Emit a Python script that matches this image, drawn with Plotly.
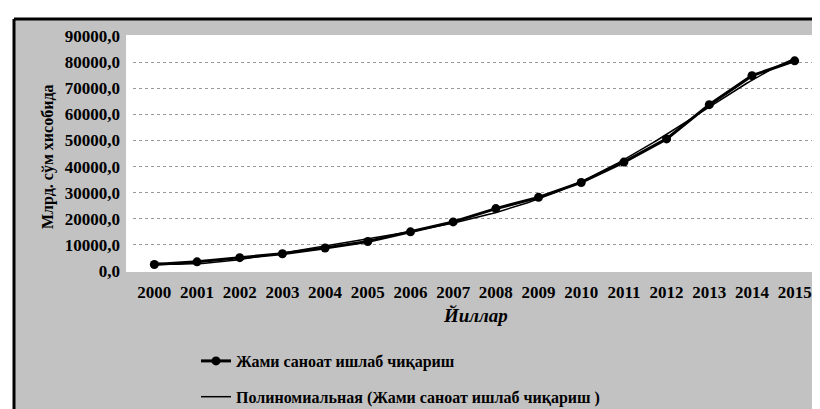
import numpy as np
import plotly.graph_objects as go

years = [2000, 2001, 2002, 2003, 2004, 2005, 2006, 2007,
         2008, 2009, 2010, 2011, 2012, 2013, 2014, 2015]
output_values = [2500, 3500, 5100, 6600, 8800, 11300, 15000, 18800,
                 23900, 28200, 33900, 41700, 50600, 63700, 74800, 80500]
y_tick_values = [0, 10000, 20000, 30000, 40000, 50000, 60000, 70000, 80000, 90000]
y_tick_labels = ["0,0", "10000,0", "20000,0", "30000,0", "40000,0",
                 "50000,0", "60000,0", "70000,0", "80000,0", "90000,0"]
x_tick_labels = [str(y) for y in years]
series_name = "Жами саноат ишлаб чиқариш"
trend_name = "Полиномиальная (Жами саноат ишлаб чиқариш )"
y_title = "Млрд. сўм хисобида"
x_title = "Йиллар"

# polynomial trendline (as Excel would compute it from the series)
xi = np.arange(1, len(years) + 1)
coef = np.polyfit(xi, output_values, 5)
xs = np.linspace(1, len(years), 200)
trend_x = xs + years[0] - 1
trend_y = np.polyval(coef, xs)

W, H = 820, 409
L, R, T, B = 125, 12, 28, 146
pw, ph = W - L - R, H - T - B

def px(x):
    return (x - L) / pw

def py(y):
    return (H - B - y) / ph

FONT = "Liberation Serif"

fig = go.Figure()
fig.add_trace(go.Scatter(
    x=years, y=output_values, mode="lines+markers", name=series_name,
    line=dict(color="black", width=3),
    marker=dict(color="black", size=9, symbol="circle"),
    legendgroup="a",
))
fig.add_trace(go.Scatter(
    x=trend_x, y=trend_y, mode="lines", name=trend_name,
    line=dict(color="black", width=1.5),
    legendgroup="b",
))

shapes = [
    dict(type="rect", xref="paper", yref="paper", x0=px(0), x1=px(W), y0=py(11), y1=py(0),
         fillcolor="white", line_width=0, layer="below"),
    dict(type="rect", xref="paper", yref="paper", x0=px(0), x1=px(6), y0=py(H), y1=py(11),
         fillcolor="white", line_width=0, layer="below"),
    dict(type="rect", xref="paper", yref="paper", x0=px(810), x1=px(W), y0=py(H), y1=py(27),
         fillcolor="#e4e4e4", line_width=0, layer="below"),
    dict(type="rect", xref="paper", yref="paper", x0=px(118), x1=px(810), y0=py(264), y1=py(27),
         fillcolor="white", line_width=0, layer="below"),
    dict(type="line", xref="paper", yref="paper", x0=px(6), x1=px(W), y0=py(11), y1=py(11),
         line=dict(color="black", width=3)),
    dict(type="line", xref="paper", yref="paper", x0=px(6), x1=px(6), y0=py(11), y1=py(H),
         line=dict(color="black", width=3)),
]

fig.update_layout(
    width=W, height=H,
    margin=dict(l=L, r=R, t=T, b=B, autoexpand=False),
    paper_bgcolor="#c2c2c2",
    plot_bgcolor="white",
    font=dict(family=FONT, color="black", size=16, weight="bold"),
    shapes=shapes,
    xaxis=dict(
        range=[1999.5, 2015.5], tickvals=years, ticktext=x_tick_labels,
        showgrid=False, zeroline=False, showline=False, ticks="",
        ticklabelstandoff=9, tickangle=0, automargin=False,
        tickfont=dict(family=FONT, size=17, color="black", weight="bold"),
    ),
    yaxis=dict(
        range=[0, 90000], tickvals=y_tick_values, ticktext=y_tick_labels,
        showgrid=True, gridcolor="#9a9a9a", griddash="dot", gridwidth=1,
        zeroline=False, showline=False, ticks="", automargin=False,
        ticklabelstandoff=12,
        tickfont=dict(family=FONT, size=17, color="black", weight="bold"),
    ),
    showlegend=True,
    legend=dict(
        xref="container", yref="container", x=188 / W, y=1 - 371 / H,
        xanchor="left", yanchor="middle", bgcolor="rgba(0,0,0,0)",
        tracegroupgap=12, orientation="v",
        font=dict(family=FONT, size=16, color="black", weight="bold"),
    ),
    annotations=[
        dict(text=y_title, xref="paper", yref="paper", x=px(40), y=py(149),
             showarrow=False, textangle=-90, xanchor="center", yanchor="middle",
             font=dict(family=FONT, size=16, color="black", weight="bold")),
        dict(text="<i>" + x_title + "</i>", xref="paper", yref="paper", x=px(467), y=py(307),
             showarrow=False, xanchor="center", yanchor="middle",
             font=dict(family=FONT, size=19, color="black", weight="bold")),
    ],
)

fig.write_html("out.html")
